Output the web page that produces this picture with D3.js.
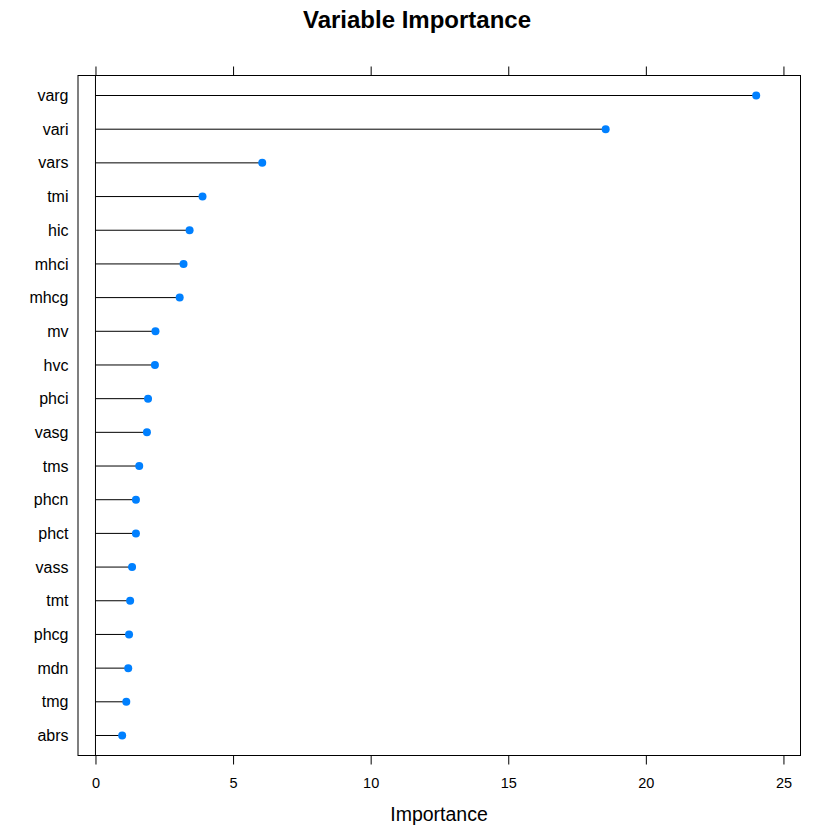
<!DOCTYPE html>
<html><head><meta charset="utf-8">
<script src="https://cdn.jsdelivr.net/npm/d3@7"></script>
<style>body{margin:0;background:#fff}svg{display:block}text{font-family:"Liberation Sans",Arial,Helvetica,sans-serif}</style>
</head><body>
<svg id="c" width="840" height="840"></svg>
<script>
const variables = ["varg","vari","vars","tmi","hic","mhci","mhcg","mv","hvc","phci","vasg","tms","phcn","phct","vass","tmt","phcg","mdn","tmg","abrs"];
const importance = [24.01,18.54,6.06,3.89,3.42,3.20,3.06,2.18,2.16,1.91,1.87,1.59,1.47,1.47,1.33,1.26,1.22,1.19,1.12,0.97];
const xTicks = [0,5,10,15,20,25];
const chartTitle = "Variable Importance";
const xLabel = "Importance";

(function(){
const svg = d3.select("#c");
const L = 78, R = 800.5, T = 75.5, B = 755.5;
const x = d3.scaleLinear().domain([-0.635, 25.62]).range([L, R]);
const y = d3.scalePoint().domain(variables).range([T, B]).padding(0.594);

// stems
svg.append("g").selectAll("line").data(variables).join("line")
  .attr("x1", x(0)).attr("x2", (d,i) => x(importance[i]))
  .attr("y1", d => y(d)).attr("y2", d => y(d))
  .attr("stroke", "#000").attr("stroke-width", 1);
// zero reference line
svg.append("line").attr("x1", x(0)).attr("x2", x(0)).attr("y1", T).attr("y2", B)
  .attr("stroke", "#000").attr("stroke-width", 1);
// dots
svg.append("g").selectAll("circle").data(variables).join("circle")
  .attr("cx", (d,i) => x(importance[i])).attr("cy", d => y(d)).attr("r", 4)
  .attr("fill", "#0080ff");

// panel border
svg.append("rect").attr("x", L).attr("y", T).attr("width", R - L).attr("height", B - T)
  .attr("fill", "none").attr("stroke", "#000").attr("stroke-width", 1);

// axes
const axB = d3.axisBottom(x).tickValues(xTicks).tickSize(9).tickPadding(13).tickFormat(d3.format("d"));
const gb = svg.append("g").attr("transform", `translate(0,${B})`).call(axB);
gb.select(".domain").remove();
gb.selectAll("text").attr("font-size", 14.5).attr("fill", "#000").attr("font-family", "Liberation Sans, Arial, sans-serif");
const axT = d3.axisTop(x).tickValues(xTicks).tickSize(9).tickFormat("");
const gt = svg.append("g").attr("transform", `translate(0,${T})`).call(axT);
gt.select(".domain").remove();

const axL = d3.axisLeft(y).tickSize(0).tickPadding(9.5);
const gl = svg.append("g").attr("transform", `translate(${L},0)`).call(axL);
gl.select(".domain").remove();
gl.selectAll("text").attr("font-size", 16).attr("fill", "#000").attr("font-family", "Liberation Sans, Arial, sans-serif");

svg.append("text").attr("x", 417).attr("y", 28).attr("text-anchor", "middle")
  .attr("font-size", 24).attr("font-weight", "bold").text(chartTitle);
svg.append("text").attr("x", 439).attr("y", 821).attr("text-anchor", "middle")
  .attr("font-size", 19.5).text(xLabel);
})();
</script>
</body></html>
